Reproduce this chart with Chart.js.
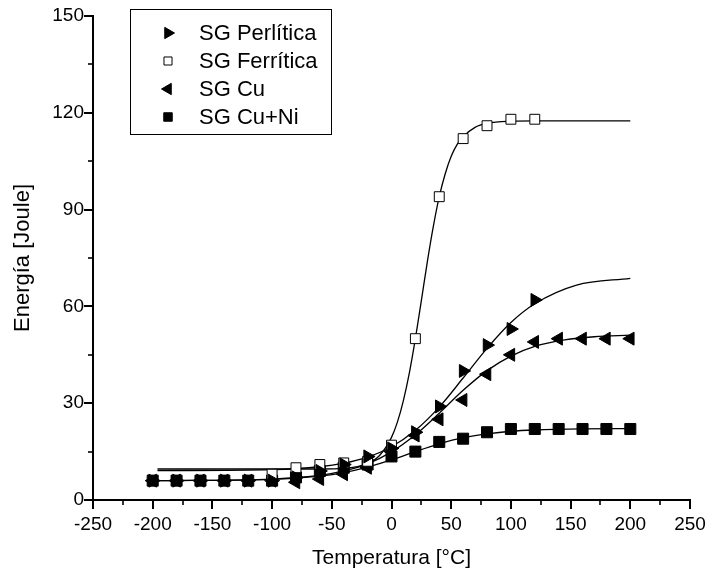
<!DOCTYPE html>
<html>
<head>
<meta charset="utf-8">
<title>Energia vs Temperatura</title>
<script src="https://cdn.jsdelivr.net/npm/chart.js@4.4.0/dist/chart.umd.min.js"></script>
<style>
  body { margin: 0; background: #fff; }
  #wrap { width: 706px; height: 574px; }
</style>
</head>
<body>
<div id="wrap"><canvas id="canvas" width="706" height="574"></canvas></div>
<script>
/* DATA */
var SERIES_NAMES = ["SG Perlítica", "SG Ferrítica", "SG Cu", "SG Cu+Ni"];

// measured points
var PERLITICA_X = [-200, -180, -160, -140, -120, -100, -80, -60, -40, -20, 0, 20, 40, 60, 80, 100, 120];
var PERLITICA_Y = [6, 6, 6, 6, 6, 6, 7, 9, 11, 13.5, 16, 21, 29, 40, 48, 53, 62];

var FERRITICA_X = [-100, -80, -60, -40, -20, 0, 20, 40, 60, 80, 100, 120];
var FERRITICA_Y = [8, 10, 11, 11.5, 12, 17, 50, 94, 112, 116, 118, 118];

var CU_X = [-200, -180, -160, -140, -120, -100, -80, -60, -40, -20, 0, 20, 40, 60, 80, 100, 120, 140, 160, 180, 200];
var CU_Y = [6, 6, 6, 6, 6, 6, 5.5, 6.5, 8, 10, 15, 20, 25, 31, 39, 45, 49, 50, 50, 50, 50];

var CUNI_X = [-200, -180, -160, -140, -120, -100, -80, -60, -40, -20, 0, 20, 40, 60, 80, 100, 120, 140, 160, 180, 200];
var CUNI_Y = [6, 6, 6, 6, 6, 6, 7, 9, 10, 11, 13.5, 15, 18, 19, 21, 22, 22, 22, 22, 22, 22];

// fitted curves
var FIT_PERLITICA_X = [-196, -100, -60, -40, -20, 0, 20, 40, 60, 80, 100, 120, 155, 200];
var FIT_PERLITICA_Y = [9.1, 9.4, 10.3, 11.4, 13.3, 16.5, 21.6, 28.8, 37.8, 47, 55, 60.8, 66.6, 68.7];

var FIT_FERRITICA_X = [-196, -60, -40, -20, -10, 0, 5, 10, 15, 20, 25, 30, 35, 40, 45, 50, 55, 60, 70, 80, 90, 100, 120, 200];
var FIT_FERRITICA_Y = [9.6, 9.6, 9.8, 11.3, 13.8, 19.4, 24.2, 30.9, 39.5, 50, 61.8, 73.8, 84.7, 94, 101.1, 106.5, 110.2, 112.6, 115.5, 116.7, 117.2, 117.4, 117.5, 117.5];

var FIT_CU_X = [-196, -100, -60, -40, -20, 0, 20, 40, 60, 80, 100, 120, 145, 170, 200];
var FIT_CU_Y = [6, 6.5, 7.6, 9, 11.2, 14.9, 20.2, 26.9, 34, 40.1, 44.6, 47.6, 49.6, 50.6, 51.1];

var FIT_CUNI_X = [-196, -100, -80, -60, -40, -20, 0, 20, 40, 60, 80, 100, 120, 160, 200];
var FIT_CUNI_Y = [6, 6.4, 6.8, 7.4, 8.5, 10.2, 12.4, 15, 17.4, 19.3, 20.5, 21.3, 21.7, 22.05, 22.15];

var X_MIN = -250, X_MAX = 250, X_STEP = 25, X_LABEL_STEP = 50;
var Y_MIN = 0, Y_MAX = 150, Y_STEP = 15, Y_LABEL_STEP = 30;

var FONT = "'Liberation Sans', Arial, sans-serif";

/* HELPERS */
function toPoints(xs, ys) {
  var pts = [];
  for (var i = 0; i < xs.length; i++) {
    pts.push({ x: xs[i], y: ys[i] });
  }
  return pts;
}

function markerSet(label, xs, ys, style, rotation, radius, fill) {
  return {
    label: label,
    isMarker: true,
    data: toPoints(xs, ys),
    showLine: false,
    pointStyle: style,
    rotation: rotation,
    pointRadius: radius,
    pointHoverRadius: radius,
    pointBackgroundColor: fill,
    pointBorderColor: "#000",
    pointBorderWidth: 1,
    order: 1
  };
}

function curveSet(xs, ys) {
  return {
    label: "",
    isMarker: false,
    data: toPoints(xs, ys),
    showLine: true,
    borderColor: "#000",
    borderWidth: 1.3,
    pointRadius: 0,
    pointHoverRadius: 0,
    cubicInterpolationMode: "monotone",
    fill: false,
    order: 2
  };
}

/* PLUGIN: outward major / minor tick marks */
var tickMarks = {
  id: "tickMarks",
  afterDraw: function(chart) {
    var ctx = chart.ctx;
    var xs = chart.scales.x, ys = chart.scales.y;
    ctx.save();
    ctx.strokeStyle = "#000";
    xs.ticks.forEach(function(t) {
      var major = t.value % X_LABEL_STEP === 0;
      var px = Math.round(xs.getPixelForValue(t.value));
      ctx.lineWidth = major ? 2 : 1.6;
      ctx.beginPath();
      ctx.moveTo(px, xs.top);
      ctx.lineTo(px, xs.top + (major ? 9 : 5));
      ctx.stroke();
    });
    ys.ticks.forEach(function(t) {
      var major = t.value % Y_LABEL_STEP === 0;
      var py = Math.round(ys.getPixelForValue(t.value));
      ctx.lineWidth = major ? 2 : 1.6;
      ctx.beginPath();
      ctx.moveTo(ys.right, py);
      ctx.lineTo(ys.right - (major ? 9 : 5), py);
      ctx.stroke();
    });
    ctx.restore();
  }
};

/* PLUGIN: framed legend inside the plot */
var boxLegend = {
  id: "boxLegend",
  afterDraw: function(chart) {
    var ctx = chart.ctx;
    var boxX = 130.5, boxY = 9.5, boxW = 201, boxH = 125;
    var rowY = [33, 61, 89, 117];
    var legendRadius = [6.5, 5.7, 6.5, 6];
    ctx.save();
    ctx.fillStyle = "#fff";
    ctx.fillRect(boxX, boxY, boxW, boxH);
    ctx.strokeStyle = "#000";
    ctx.lineWidth = 1;
    ctx.strokeRect(boxX, boxY, boxW, boxH);

    var k = 0;
    chart.data.datasets.forEach(function(ds) {
      if (!ds.isMarker) return;
      var opts = {
        pointStyle: ds.pointStyle,
        rotation: ds.rotation,
        radius: legendRadius[k],
        borderWidth: 1
      };
      ctx.fillStyle = ds.pointBackgroundColor;
      ctx.strokeStyle = "#000";
      ctx.lineWidth = 1;
      Chart.helpers.drawPoint(ctx, opts, 168, rowY[k]);

      ctx.fillStyle = "#000";
      ctx.font = "22px " + FONT;
      ctx.textBaseline = "middle";
      ctx.textAlign = "left";
      ctx.fillText(ds.label, 199, rowY[k] + 1);
      k++;
    });
    ctx.restore();
  }
};

/* CHART */
var datasets = [
  curveSet(FIT_PERLITICA_X, FIT_PERLITICA_Y),
  curveSet(FIT_FERRITICA_X, FIT_FERRITICA_Y),
  curveSet(FIT_CU_X, FIT_CU_Y),
  curveSet(FIT_CUNI_X, FIT_CUNI_Y),
  markerSet(SERIES_NAMES[0], PERLITICA_X, PERLITICA_Y, "triangle", 90, 7.5, "#000"),
  markerSet(SERIES_NAMES[1], FERRITICA_X, FERRITICA_Y, "rect", 0, 7, "#fff"),
  markerSet(SERIES_NAMES[2], CU_X, CU_Y, "triangle", 270, 7.5, "#000"),
  markerSet(SERIES_NAMES[3], CUNI_X, CUNI_Y, "rect", 0, 7.8, "#000")
];

var ctx = document.getElementById("canvas").getContext("2d");
window.myChart = new Chart(ctx, {
  type: "scatter",
  data: { datasets: datasets },
  options: {
    responsive: false,
    devicePixelRatio: 1,
    animation: false,
    layout: { padding: { left: 10, right: 16, top: 16, bottom: 3 } },
    plugins: {
      legend: { display: false },
      tooltip: { enabled: false }
    },
    scales: {
      x: {
        type: "linear",
        min: X_MIN,
        max: X_MAX,
        afterFit: function(scale) { scale.height = 71; },
        border: { display: true, color: "#000", width: 2 },
        // built-in tick marks kept invisible, they only push the labels away
        grid: { display: true, drawOnChartArea: false, drawTicks: true, tickLength: 13, tickColor: "rgba(0,0,0,0)" },
        ticks: {
          stepSize: X_STEP,
          autoSkip: false,
          maxRotation: 0,
          padding: 0,
          color: "#000",
          font: { family: FONT, size: 19 },
          callback: function(v) { return v % X_LABEL_STEP === 0 ? String(v) : ""; }
        },
        title: {
          display: true,
          text: "Temperatura [°C]",
          color: "#000",
          font: { family: FONT, size: 21 },
          padding: { top: 0, bottom: 0 }
        }
      },
      y: {
        type: "linear",
        min: Y_MIN,
        max: Y_MAX,
        afterFit: function(scale) { scale.width = 83; },
        border: { display: true, color: "#000", width: 2 },
        grid: { display: true, drawOnChartArea: false, drawTicks: true, tickLength: 9, tickColor: "rgba(0,0,0,0)" },
        ticks: {
          stepSize: Y_STEP,
          autoSkip: false,
          padding: 0,
          color: "#000",
          font: { family: FONT, size: 19 },
          callback: function(v) { return v % Y_LABEL_STEP === 0 ? String(v) : ""; }
        },
        title: {
          display: true,
          text: "Energía [Joule]",
          color: "#000",
          font: { family: FONT, size: 22 },
          padding: { top: 0, bottom: 0 }
        }
      }
    }
  },
  plugins: [tickMarks, boxLegend]
});
</script>
</body>
</html>
